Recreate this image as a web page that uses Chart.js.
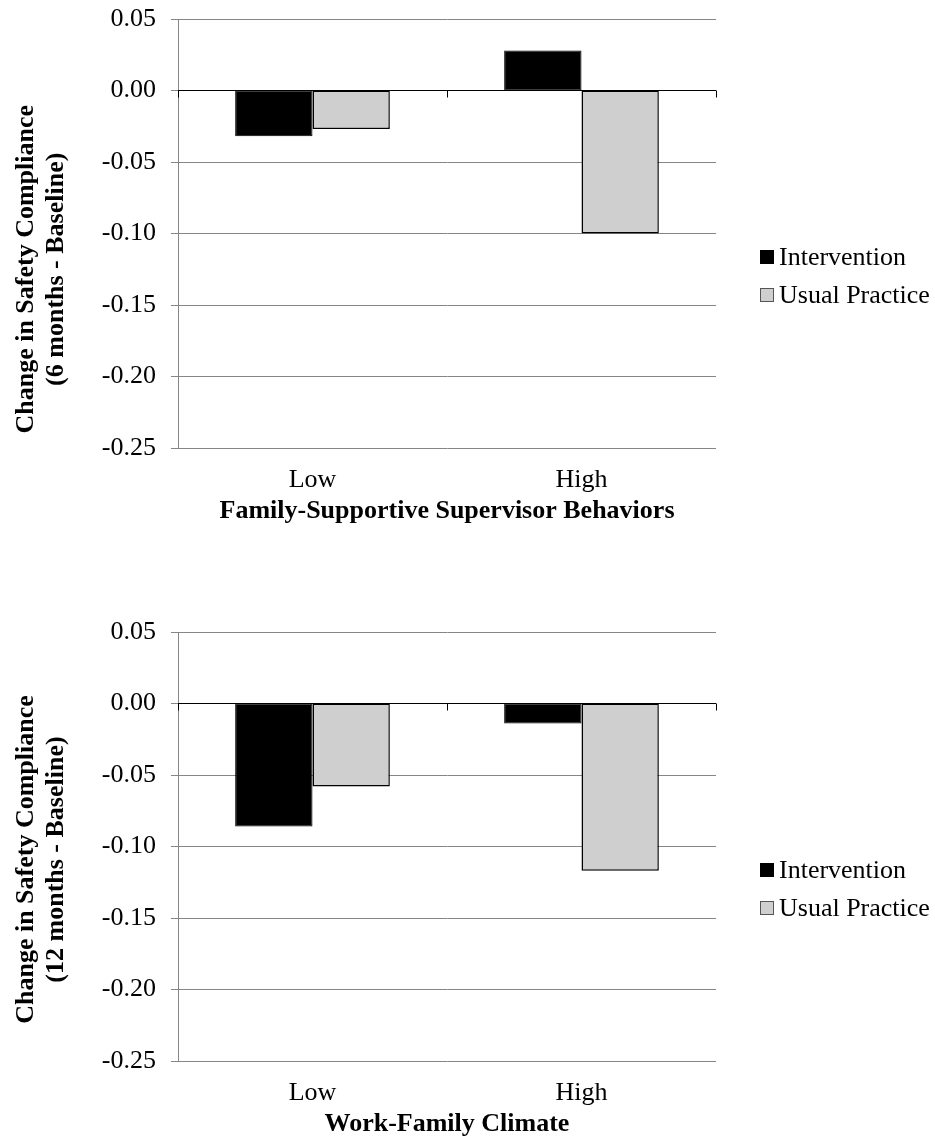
<!DOCTYPE html>
<html>
<head>
<meta charset="utf-8">
<script src="https://cdn.jsdelivr.net/npm/chart.js@4.4.1/dist/chart.umd.min.js"></script>
<style>
  html, body { margin: 0; padding: 0; background: #fff; }
  body { width: 935px; height: 1147px; position: relative; overflow: hidden; font-family: "Liberation Serif", "Times New Roman", serif; }
  .panel { position: absolute; left: 0; width: 935px; height: 534px; }
  .panel canvas { position: absolute; left: 0; top: 0; }
  .legend { position: absolute; left: 760px; top: 238px; }
  .legend-item { display: flex; align-items: center; height: 38px; font-size: 26px; color: #000; white-space: nowrap; }
  .legend-swatch { width: 14px; height: 14px; box-sizing: border-box; margin-right: 5px; }
</style>
</head>
<body>
<div class="panel" id="panel-6" style="top:0">
  <canvas id="chart6" width="935" height="534"></canvas>
  <div class="legend" id="legend6"></div>
</div>
<div class="panel" id="panel-12" style="top:613px">
  <canvas id="chart12" width="935" height="534"></canvas>
  <div class="legend" id="legend12"></div>
</div>

<script>
// ─── Data ───
const CATEGORIES = ["Low", "High"];
const SERIES_NAMES = ["Intervention", "Usual Practice"];
const SERIES_COLORS = ["#000000", "#d0cfd0"];

// 6 months - baseline, by Family-Supportive Supervisor Behaviors
const intervention6 = [-0.032, 0.028];
const usual6        = [-0.027, -0.100];

// 12 months - baseline, by Work-Family Climate
const intervention12 = [-0.086, -0.014];
const usual12        = [-0.058, -0.117];

const Y_MIN = -0.25, Y_MAX = 0.05, Y_STEP = 0.05;

const FONT = "'Liberation Serif', 'Times New Roman', serif";
const GRID = "#868686";

// ── small tick marks hanging from the zero line ──
const zeroTicks = {
  id: "zeroTicks",
  afterDatasetsDraw(chart) {
    const { ctx, scales: { x, y } } = chart;
    const y0 = Math.round(y.getPixelForValue(0)) + 0.5;
    const n = chart.data.labels.length;
    const step = (x.right - x.left) / n;
    ctx.save();
    ctx.strokeStyle = "#000";
    ctx.lineWidth = 1;
    ctx.beginPath();
    ctx.moveTo(x.left, y0);
    ctx.lineTo(x.right, y0);
    for (let i = 0; i <= n; i++) {
      const px = Math.round(x.left + step * i) + 0.5;
      ctx.moveTo(px, y0);
      ctx.lineTo(px, y0 + 7);
    }
    ctx.stroke();
    ctx.restore();
  }
};

function isZero(v) { return Math.abs(v) < 1e-9; }

// trailing spaces push the rotated y title down a bit, like the original
function padTitle(lines, n) { return lines.map(l => l + " ".repeat(n)); }

function makeChart(id, yTitle, xTitle, interVals, usualVals) {
  return new Chart(document.getElementById(id), {
    type: "bar",
    data: {
      labels: CATEGORIES,
      datasets: [
        { label: SERIES_NAMES[0], data: interVals, backgroundColor: SERIES_COLORS[0], borderColor: "#000", borderWidth: 1, borderSkipped: false },
        { label: SERIES_NAMES[1], data: usualVals, backgroundColor: SERIES_COLORS[1], borderColor: "#000", borderWidth: 1.5, borderSkipped: false }
      ]
    },
    options: {
      responsive: false,
      animation: false,
      layout: { padding: { top: 0, right: 219, bottom: 0, left: 0 } },
      datasets: { bar: { categoryPercentage: 0.575, barPercentage: 1.0 } },
      plugins: { legend: { display: false }, tooltip: { enabled: false } },
      scales: {
        x: {
          offset: true,
          grid: { display: false },
          border: { display: false },
          ticks: { color: "#000", padding: 9, font: { family: FONT, size: 26, lineHeight: 1.2 } },
          title: { display: true, text: xTitle, color: "#000", padding: { top: 0, bottom: 7 },
                   font: { family: FONT, size: 26, weight: "bold", lineHeight: 1.2 } },
          afterFit: s => { s.height = 86; }
        },
        y: {
          min: Y_MIN,
          max: Y_MAX,
          grid: {
            color: c => isZero(c.tick.value) ? "#000" : GRID,
            tickColor: GRID,
            tickLength: 7,
            lineWidth: 1
          },
          border: { color: GRID, width: 1 },
          ticks: {
            stepSize: Y_STEP,
            color: "#000",
            padding: 15,
            // short line height keeps the plot top at the 0.05 line of the original
            font: { family: FONT, size: 26, lineHeight: "8px" },
            callback: v => isZero(v) ? "0.00" : v.toFixed(2)
          },
          title: { display: true, text: yTitle, color: "#000", padding: { top: 11, bottom: 0 },
                   font: { family: FONT, size: 26, weight: "bold", lineHeight: 1.15 } },
          afterFit: s => { s.width = 178; }
        }
      }
    },
    plugins: [zeroTicks]
  });
}

function renderLegend(id) {
  const el = document.getElementById(id);
  el.innerHTML = SERIES_NAMES.map((name, i) => `
    <div class="legend-item">
      <span class="legend-swatch" style="background:${SERIES_COLORS[i]};border:1px solid ${i === 0 ? "#000" : "#555"}"></span>
      <span>${name}</span>
    </div>
  `).join("");
}

makeChart("chart6", padTitle(["Change in Safety Compliance", "(6 months - Baseline)"], 11),
          "Family-Supportive Supervisor Behaviors", intervention6, usual6);
makeChart("chart12", padTitle(["Change in Safety Compliance", "(12 months - Baseline)"], 4),
          "Work-Family Climate", intervention12, usual12);
renderLegend("legend6");
renderLegend("legend12");
</script>
</body>
</html>
